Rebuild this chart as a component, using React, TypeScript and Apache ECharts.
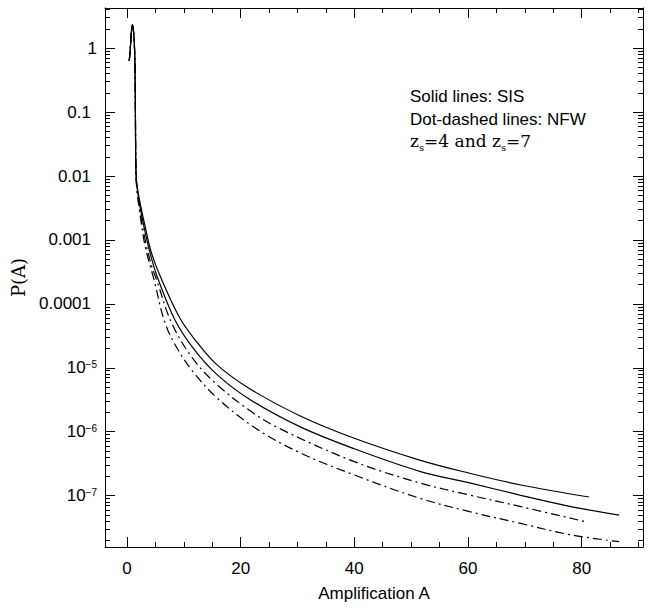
import React, { useEffect, useRef } from "react";
import * as echarts from "echarts";

// Axis ranges (A on x, P(A) on a log10 y scale)
const xRange = [-3.87, 90.8];
const yRangeP = [1.57e-8, 4.26];

// Tick values
const xMajorTicks = [0, 20, 40, 60, 80];
const xMinorTicks = [5, 10, 15, 25, 30, 35, 45, 50, 55, 65, 70, 75, 85, 90];
const yDecades = [0, -1, -2, -3, -4, -5, -6, -7];
const yTickLabels = ["1", "0.1", "0.01", "0.001", "0.0001", "10{sup|\u22125}", "10{sup|\u22126}", "10{sup|\u22127}"];
const yMinorMultipliers = [2, 3, 4, 5, 6, 7, 8, 9];

// Shared peak section of all curves
const headA = [0.4, 0.65, 0.93, 1.1, 1.29, 1.41, 1.48, 1.55];
const headP = [0.63, 1.2, 2.34, 2.0, 1.2, 0.52, 0.1, 0.016];

// Solid lines: SIS
const sisUpperA = [...headA, 1.7, 2.3, 3.2, 4.3, 6.1, 9.3, 11.7, 15.8, 21.6, 30.4, 40, 51.5, 60.3, 69.1, 81.3];
const sisUpperP = [...headP, 0.0079, 0.0038, 0.00162, 6.3e-4, 2.4e-4, 6.0e-5, 2.95e-5, 1.12e-5, 4.7e-6, 1.78e-6, 7.9e-7, 3.6e-7, 2.24e-7, 1.48e-7, 9.5e-8];
const sisLowerA = [...headA, 1.7, 2.3, 3.2, 4.3, 5.5, 8.44, 11.7, 15.8, 21.6, 30.4, 40, 51.5, 60.3, 69.1, 77.9, 86.6];
const sisLowerP = [...headP, 7.6e-3, 3.3e-3, 1.32e-3, 5.2e-4, 2.4e-4, 5.6e-5, 2.0e-5, 7.9e-6, 3.2e-6, 1.2e-6, 5.4e-7, 2.4e-7, 1.58e-7, 1.02e-7, 6.8e-8, 4.95e-8];

// Dot-dashed lines: NFW
const nfwUpperA = [...headA, 1.7, 2.3, 3.2, 4.3, 5.2, 7.86, 11.7, 15.8, 21.6, 26.6, 40, 51.5, 60.3, 69.1, 80.7];
const nfwUpperP = [...headP, 7.1e-3, 2.8e-3, 1.0e-3, 4.0e-4, 2.4e-4, 5.0e-5, 1.35e-5, 5.5e-6, 2.14e-6, 1.15e-6, 3.4e-7, 1.58e-7, 1.02e-7, 6.8e-8, 3.9e-8];
const nfwLowerA = [...headA, 1.7, 2.3, 3.2, 4.75, 6.7, 9, 11.7, 15.8, 22.5, 30.4, 40, 51.5, 60.3, 69.1, 77.9, 86.6];
const nfwLowerP = [...headP, 6.6e-3, 2.5e-3, 7.9e-4, 2.4e-4, 5.0e-5, 1.9e-5, 8.5e-6, 3.4e-6, 1.15e-6, 4.7e-7, 2.1e-7, 9.1e-8, 5.6e-8, 3.7e-8, 2.45e-8, 1.9e-8];

const legendLines = ["Solid lines: SIS", "Dot-dashed lines: NFW", "z{sub|s}=4 and z{sub|s}=7"];

const SANS = '"Liberation Sans", Arial, sans-serif';
const SERIF = '"DejaVu Serif", "Liberation Serif", serif';

function toPairs(a: number[], p: number[]) {
  return a.map((x, i) => [x, Math.log10(p[i])]);
}

export default function App() {
  const ref = useRef<HTMLDivElement>(null);
  useEffect(() => {
    if (!ref.current) return;
    const chart = echarts.init(ref.current, null, { renderer: "svg" });
    const yMin = Math.log10(yRangeP[0]);
    const yMax = Math.log10(yRangeP[1]);
    const yMinor: number[] = [];
    for (let n = -8; n <= 0; n++) {
      for (const k of yMinorMultipliers) {
        const v = n + Math.log10(k);
        if (v > yMin && v < yMax) yMinor.push(v);
      }
    }
    const black = { color: "#000", width: 1 };
    const xAx = (pos: string, major: boolean, withLine: boolean, extra: any = {}) => ({
      type: "value",
      position: pos,
      min: xRange[0],
      max: xRange[1],
      splitLine: { show: false },
      axisLine: { show: withLine, onZero: false, lineStyle: black },
      axisTick: { show: true, inside: true, length: major ? 10 : 5, customValues: major ? xMajorTicks : xMinorTicks, lineStyle: black },
      axisLabel: { show: false },
      ...extra,
    });
    const yAx = (pos: string, major: boolean, withLine: boolean, extra: any = {}) => ({
      type: "value",
      position: pos,
      min: yMin,
      max: yMax,
      splitLine: { show: false },
      axisLine: { show: withLine, onZero: false, lineStyle: black },
      axisTick: { show: true, inside: true, length: major ? 10 : 5, customValues: major ? yDecades : yMinor, lineStyle: black },
      axisLabel: { show: false },
      ...extra,
    });
    const lineSeries = (a: number[], p: number[], dashed: boolean) => ({
      type: "line",
      data: toPairs(a, p),
      showSymbol: false,
      smooth: 0.35,
      lineStyle: { color: "#000", width: 1.2, type: dashed ? [9, 4, 2, 4] : "solid" },
      xAxisIndex: 0,
      yAxisIndex: 0,
    });
    chart.setOption({
      animation: false,
      backgroundColor: "#fff",
      grid: { left: 105, right: 10, top: 8, bottom: 61 },
      xAxis: [
        xAx("bottom", true, true, {
          axisLabel: { show: true, customValues: xMajorTicks, fontSize: 17, color: "#000", fontFamily: SANS, margin: 13 },
          name: "Amplification A",
          nameLocation: "middle",
          nameGap: 38,
          nameTextStyle: { fontSize: 17, color: "#000", fontFamily: SANS },
        }),
        xAx("bottom", false, false),
        xAx("top", true, true),
        xAx("top", false, false),
      ],
      yAxis: [
        yAx("left", true, true, {
          axisLabel: {
            show: true,
            customValues: yDecades,
            fontSize: 17,
            color: "#000",
            fontFamily: SANS,
            margin: 8,
            formatter: (v: number) => {
              const i = yDecades.findIndex((d) => Math.abs(d - v) < 1e-6);
              const s = i >= 0 ? yTickLabels[i] : "";
              if (s.indexOf("{") >= 0) return s;
              return s === "1" ? s : "{pad|" + s + "}";
            },
            rich: {
              sup: { fontSize: 10, verticalAlign: "top", fontFamily: SANS, color: "#000", lineHeight: 17 },
              pad: { fontSize: 17, fontFamily: SANS, color: "#000", padding: [0, 6, 0, 0] },
            },
          },
          name: "P(A)",
          nameLocation: "middle",
          nameGap: 78,
          nameTextStyle: { fontSize: 18, color: "#000", fontFamily: SERIF },
        }),
        yAx("left", false, false),
        yAx("right", true, true),
        yAx("right", false, false),
      ],
      series: [
        lineSeries(sisUpperA, sisUpperP, false),
        lineSeries(sisLowerA, sisLowerP, false),
        lineSeries(nfwUpperA, nfwUpperP, true),
        lineSeries(nfwLowerA, nfwLowerP, true),
      ],
      graphic: [
        { type: "text", left: 410, top: 88, style: { text: legendLines[0], font: '17px "Liberation Sans"', fill: "#000" } },
        { type: "text", left: 410, top: 111, style: { text: legendLines[1], font: '17px "Liberation Sans"', fill: "#000" } },
        {
          type: "text",
          left: 410,
          top: 132,
          style: {
            text: legendLines[2],
            font: '17px "DejaVu Serif"',
            fill: "#000",
            rich: { sub: { fontSize: 10, fontFamily: SERIF, verticalAlign: "bottom", lineHeight: 23, fill: "#000" } },
          },
        },
      ],
    });
    return () => chart.dispose();
  }, []);
  return <div ref={ref} style={{ position: "fixed", left: 0, top: 0, width: 653, height: 608, background: "#fff" }} />;
}
